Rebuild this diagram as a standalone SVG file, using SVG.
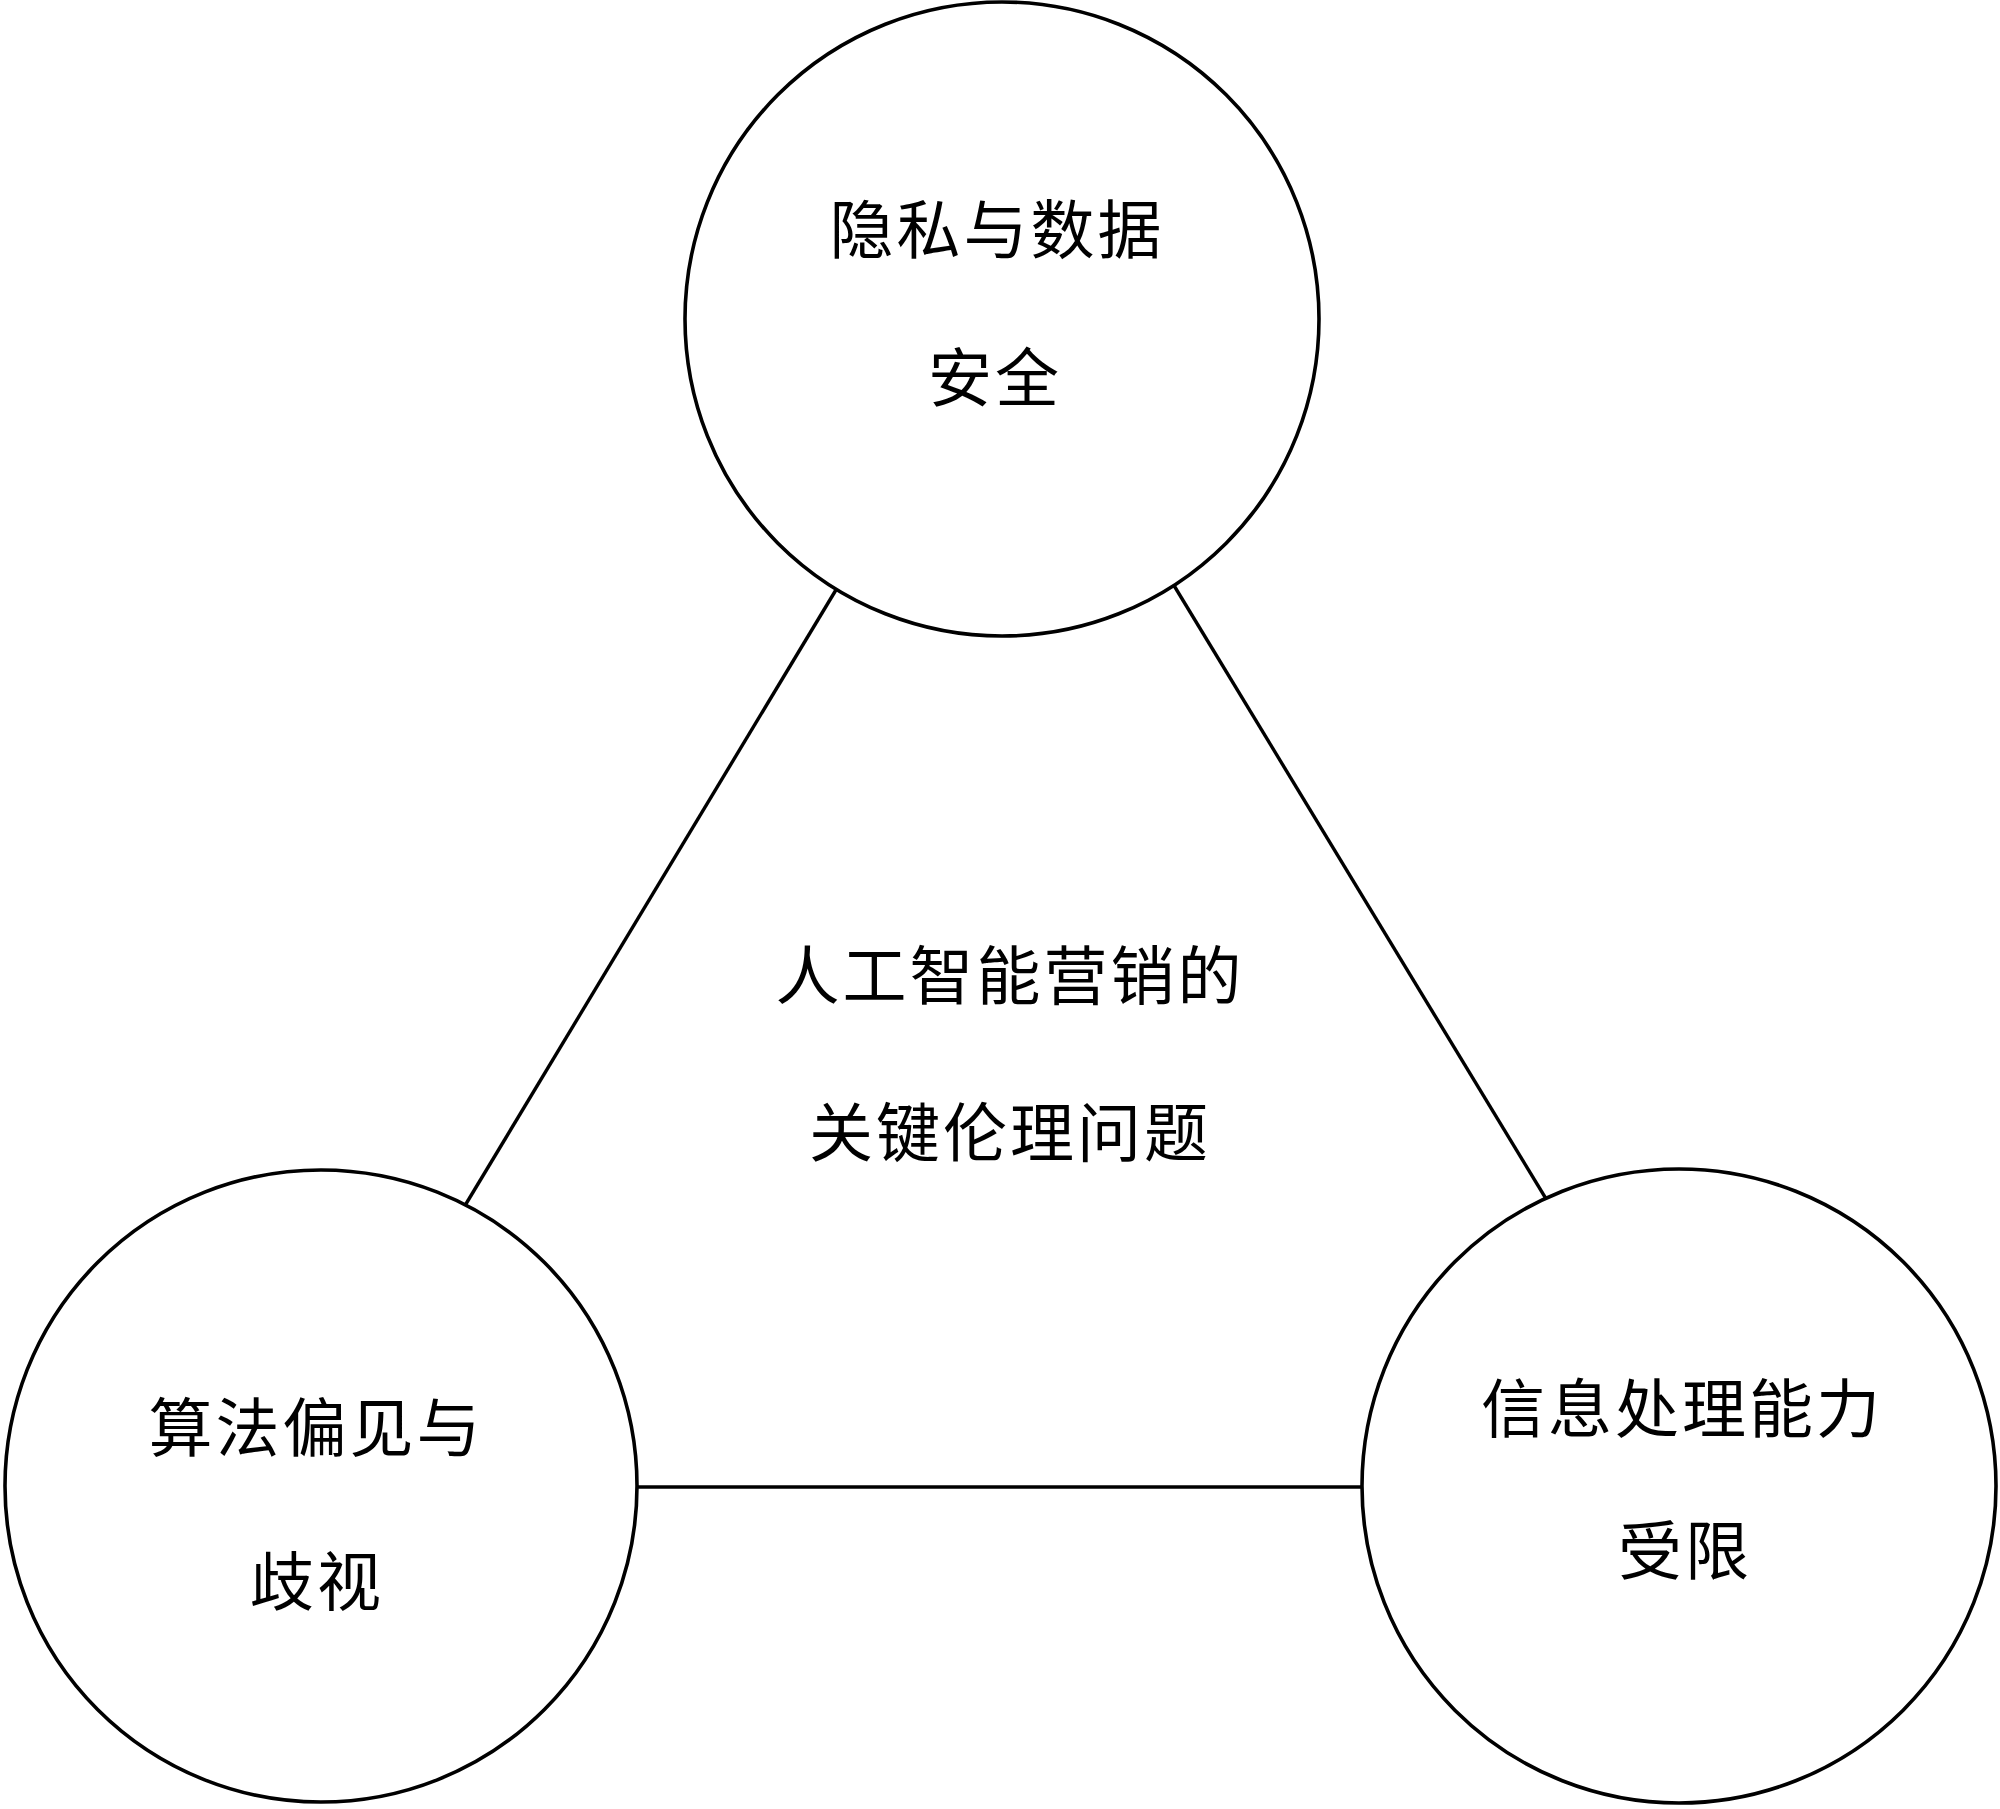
<svg xmlns="http://www.w3.org/2000/svg" width="2000" height="1809" viewBox="0 0 2000 1809">
<style>
.node{fill:#fff;stroke:#000;stroke-width:3.6}
.edge{stroke:#000;stroke-width:3.4;fill:none}
.lbl{font-family:"Noto Sans CJK SC","Noto Sans CJK JP",serif;font-size:64px;fill:#000;text-anchor:middle;dominant-baseline:central;letter-spacing:3px}
</style>
<rect width="2000" height="1809" fill="#fff"/>
<g id="connectors">
<line class="edge" x1="860" y1="550" x2="440" y2="1247"/>
<line class="edge" x1="1150" y1="546" x2="1568" y2="1235"/>
<line class="edge" x1="600" y1="1487" x2="1400" y2="1487"/>
</g>
<g id="node-privacy">
<circle class="node" cx="1002" cy="319" r="317"/>
<text class="lbl" x="997" y="225">隐私与数据</text>
<text class="lbl" x="995" y="373">安全</text>
</g>
<g id="node-bias">
<circle class="node" cx="321" cy="1486" r="316"/>
<text class="lbl" x="316" y="1423">算法偏见与</text>
<text class="lbl" x="317" y="1577">歧视</text>
</g>
<g id="node-info">
<circle class="node" cx="1679" cy="1486" r="317"/>
<text class="lbl" x="1682" y="1404">信息处理能力</text>
<text class="lbl" x="1685" y="1546">受限</text>
</g>
<g id="center-label">
<text class="lbl" x="1010" y="971" letter-spacing="4">人工智能营销的</text>
<text class="lbl" x="1010" y="1128" letter-spacing="4">关键伦理问题</text>
</g>
</svg>
